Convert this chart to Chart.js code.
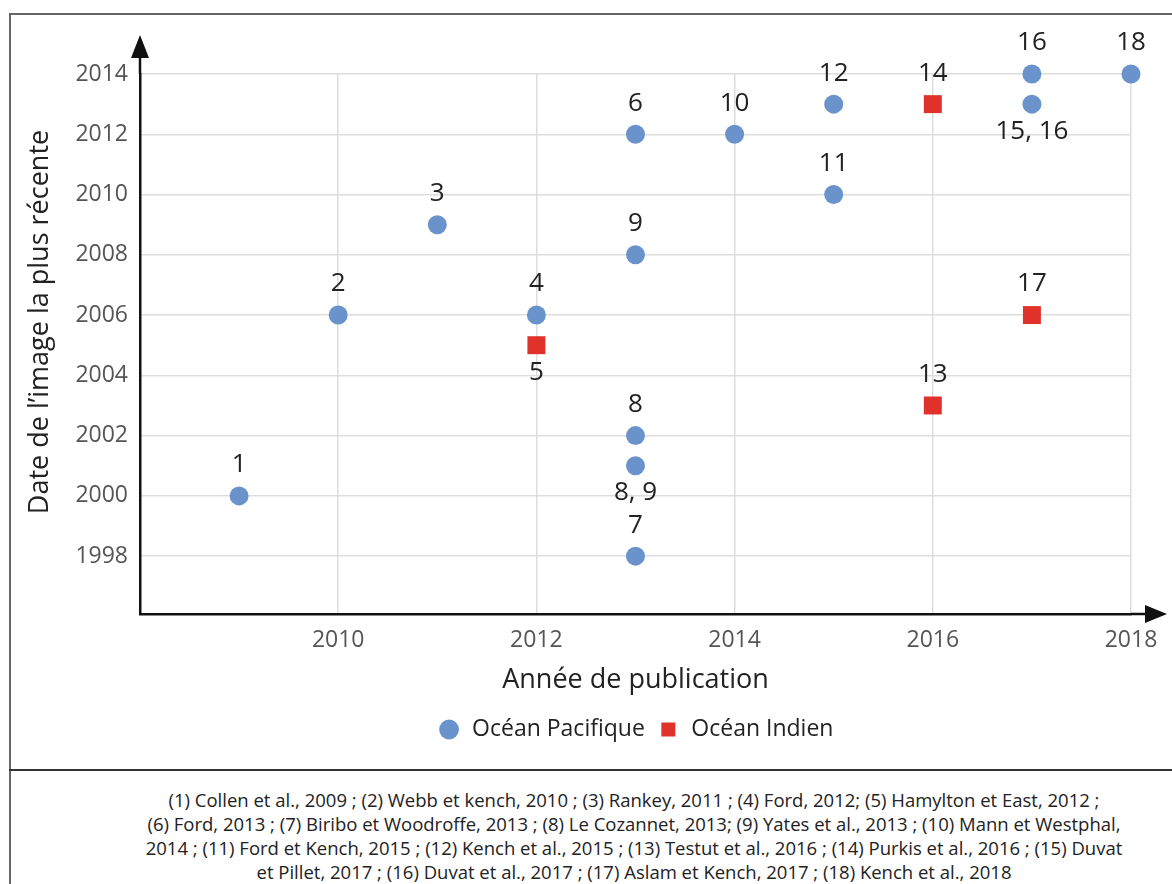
<!DOCTYPE html>
<html>
<head>
<meta charset="utf-8">
<script src="https://cdn.jsdelivr.net/npm/chart.js@4/dist/chart.umd.min.js"></script>
<style>
    body { margin: 0; background: #fff; font-family: "Open Sans", sans-serif; }
    #frame { position: absolute; left: 9px; top: 13px; width: 1200px; height: 900px; border: 2px solid #666; box-sizing: border-box; }
    #sep { position: absolute; left: 9px; top: 769px; width: 1200px; border-top: 2px solid #333; }
    #wrap { position: absolute; left: 0; top: 0; width: 1172px; height: 770px; }
    #notes { position: absolute; left: 134px; top: 788px; width: 1000px; text-align: center; white-space: nowrap;
             font-size: 18.5px; line-height: 24px; color: #222; }
</style>
</head>
<body>
<div id="frame"></div>
<div id="sep"></div>
<div id="wrap"><canvas id="chart"></canvas></div>
<div id="notes">
(1) Collen et al., 2009 ; (2) Webb et kench, 2010 ; (3) Rankey, 2011 ; (4) Ford, 2012; (5) Hamylton et East, 2012 ;<br>
(6) Ford, 2013 ; (7) Biribo et Woodroffe, 2013 ; (8) Le Cozannet, 2013; (9) Yates et al., 2013 ; (10) Mann et Westphal,<br>
2014 ; (11) Ford et Kench, 2015 ; (12) Kench et al., 2015 ; (13) Testut et al., 2016 ; (14) Purkis et al., 2016 ; (15) Duvat<br>
et Pillet, 2017 ; (16) Duvat et al., 2017 ; (17) Aslam et Kench, 2017 ; (18) Kench et al., 2018
</div>
<script>
// Océan Pacifique
const pacificYears  = [2009, 2010, 2011, 2012, 2013, 2013, 2013, 2013, 2013, 2014, 2015, 2015, 2017, 2017, 2018];
const pacificImages = [2000, 2006, 2009, 2006, 2012, 2008, 2002, 2001, 1998, 2012, 2010, 2013, 2014, 2013, 2014];
const pacificLabels = ['1', '2', '3', '4', '6', '9', '8', '8, 9', '7', '10', '11', '12', '16', '15, 16', '18'];

// Océan Indien
const indianYears  = [2012, 2016, 2016, 2017];
const indianImages = [2005, 2003, 2013, 2006];
const indianLabels = ['5', '13', '14', '17'];

const xTicks = [2010, 2012, 2014, 2016, 2018];
const yTicks = [1998, 2000, 2002, 2004, 2006, 2008, 2010, 2012, 2014];

const FONT = '"Open Sans", sans-serif';
const belowLabels = ['5', '8, 9', '15, 16'];

function toPoints(xs, ys) {
    return xs.map((x, i) => ({ x: x, y: ys[i] }));
}

// numbers next to the markers, y title, axis arrows, legend centred on the plot
const extras = {
    id: 'extras',
    afterUpdate(chart) {
        const lg = chart.legend;
        lg.left = chart.chartArea.left;
        lg.right = chart.chartArea.right;
        lg.adjustHitBoxes();
    },
    afterDatasetsDraw(chart) {
        const ctx = chart.ctx;
        ctx.save();
        ctx.font = '26px ' + FONT;
        ctx.fillStyle = '#222';
        ctx.textAlign = 'center';
        ctx.textBaseline = 'middle';
        chart.data.datasets.forEach((ds, di) => {
            chart.getDatasetMeta(di).data.forEach((pt, i) => {
                const lab = ds.pointLabels[i];
                const dy = belowLabels.includes(lab) ? 27 : -31;
                ctx.fillText(lab, pt.x, pt.y + dy);
            });
        });
        ctx.restore();
    },
    afterDraw(chart) {
        const ctx = chart.ctx;
        const a = chart.chartArea;
        ctx.save();
        ctx.strokeStyle = '#111';
        ctx.fillStyle = '#111';
        ctx.lineWidth = 2.5;
        // y axis extension + arrow
        ctx.beginPath();
        ctx.moveTo(a.left, a.top);
        ctx.lineTo(a.left, 55);
        ctx.stroke();
        ctx.beginPath();
        ctx.moveTo(a.left, 35);
        ctx.lineTo(a.left - 9, 58);
        ctx.lineTo(a.left + 9, 58);
        ctx.closePath();
        ctx.fill();
        // x axis extension + arrow
        ctx.beginPath();
        ctx.moveTo(a.right, a.bottom);
        ctx.lineTo(1148, a.bottom);
        ctx.stroke();
        ctx.beginPath();
        ctx.moveTo(1167, a.bottom);
        ctx.lineTo(1145, a.bottom - 9);
        ctx.lineTo(1145, a.bottom + 9);
        ctx.closePath();
        ctx.fill();
        // y title
        ctx.translate(40, 322);
        ctx.rotate(-Math.PI / 2);
        ctx.font = '27px ' + FONT;
        ctx.fillStyle = '#222';
        ctx.textAlign = 'center';
        ctx.textBaseline = 'middle';
        ctx.fillText("Date de l\u2019image la plus récente", 0, 0);
        ctx.restore();
    }
};

const ctx = document.getElementById('chart').getContext('2d');
const chart = new Chart(ctx, {
    type: 'scatter',
    data: {
        datasets: [{
            label: 'Océan Pacifique',
            data: toPoints(pacificYears, pacificImages),
            pointLabels: pacificLabels,
            pointStyle: 'circle',
            pointRadius: 9.5,
            pointHoverRadius: 9.5,
            backgroundColor: '#6b93cb',
            borderWidth: 0,
            clip: false
        }, {
            label: 'Océan Indien',
            data: toPoints(indianYears, indianImages),
            pointLabels: indianLabels,
            pointStyle: 'rect',
            pointRadius: 12.7,
            pointHoverRadius: 12.7,
            backgroundColor: '#e0312b',
            borderWidth: 0,
            clip: false
        }]
    },
    options: {
        responsive: true,
        maintainAspectRatio: false,
        animation: false,
        layout: { padding: { left: 0, top: 74, right: 41, bottom: 19 } },
        plugins: {
            tooltip: { enabled: false },
            legend: {
                position: 'bottom',
                labels: {
                    usePointStyle: true,
                    boxHeight: 14,
                    padding: 12,
                    color: '#222',
                    font: { family: FONT, size: 23 }
                }
            }
        },
        scales: {
            x: {
                type: 'linear',
                min: 2008,
                max: 2018,
                afterBuildTicks: (s) => { s.ticks = xTicks.map(v => ({ value: v })); },
                afterFit: (s) => { s.height = 92; },
                grid: { color: '#dddddd', lineWidth: 1.5, drawTicks: false },
                border: { color: '#111', width: 2.5 },
                ticks: { color: '#555', padding: 13, font: { family: FONT, size: 23 }, callback: v => String(v) },
                title: { display: true, text: 'Année de publication', color: '#222', padding: { top: 6, bottom: 9 },
                         font: { family: FONT, size: 27 } }
            },
            y: {
                type: 'linear',
                min: 1996.08,
                max: 2014,
                afterBuildTicks: (s) => { s.ticks = yTicks.map(v => ({ value: v })); },
                afterFit: (s) => { s.width = 140; },
                grid: { color: '#dddddd', lineWidth: 1.5, drawTicks: false },
                border: { color: '#111', width: 2.5 },
                ticks: { color: '#555', padding: 12, font: { family: FONT, size: 23 }, callback: v => String(v) }
            }
        }
    },
    plugins: [extras]
});
</script>
</body>
</html>
